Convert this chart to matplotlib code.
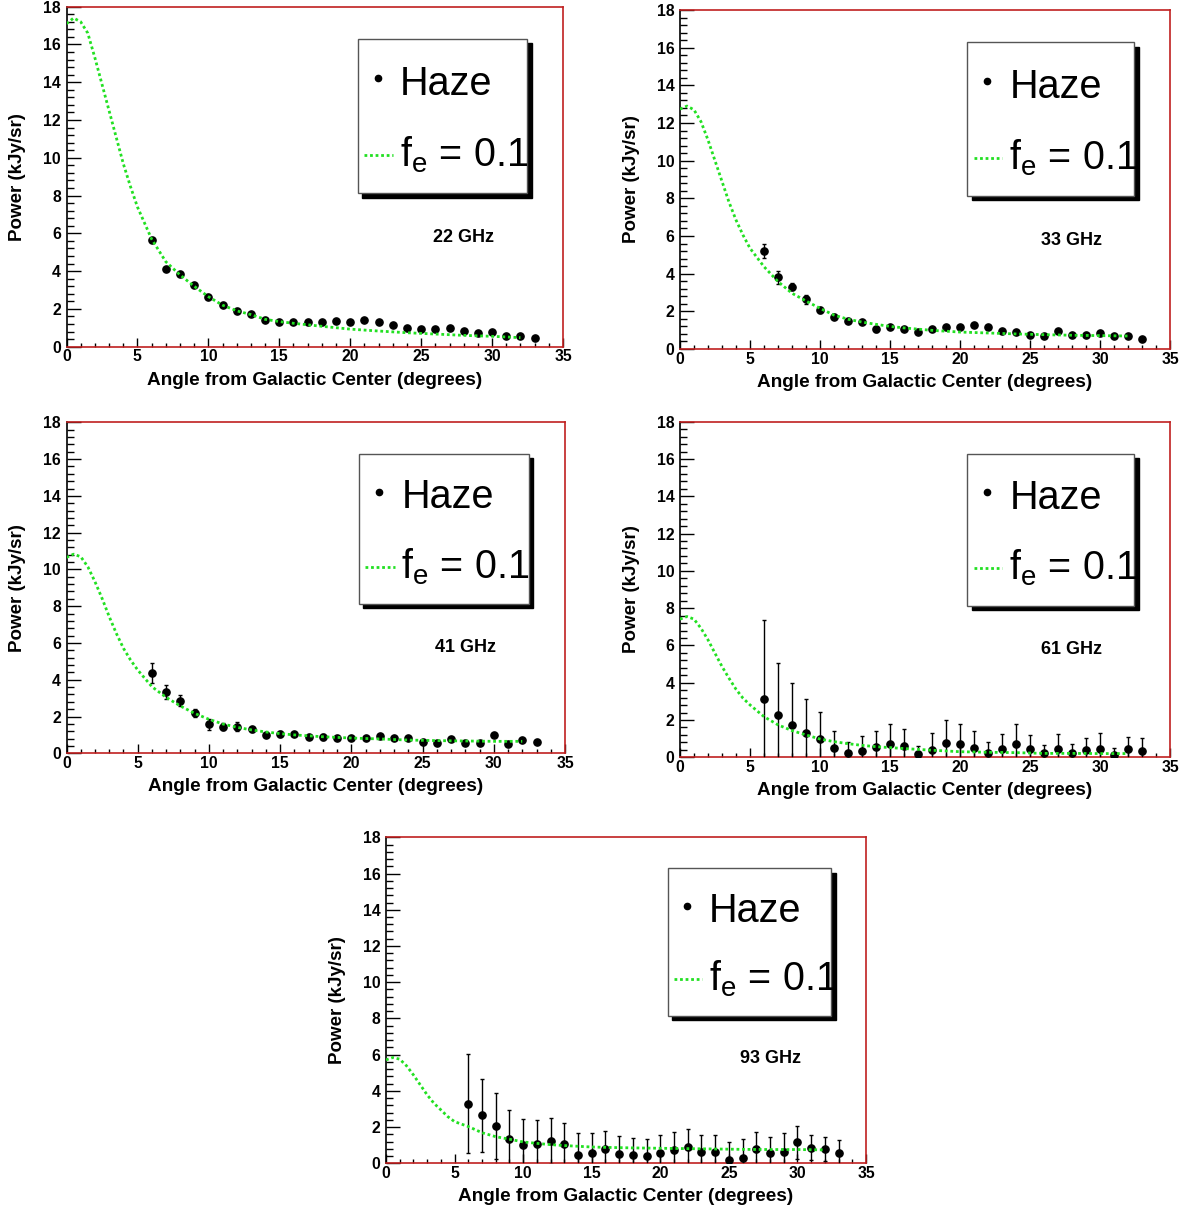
import matplotlib
matplotlib.use("Agg")
import matplotlib.pyplot as plt
from matplotlib.patches import Rectangle
from matplotlib.lines import Line2D
from matplotlib.ticker import MultipleLocator

plt.rcParams['font.family'] = ['Liberation Sans', 'DejaVu Sans']
plt.rcParams['font.weight'] = 'bold'
plt.rcParams['mathtext.default'] = 'regular'

# angles of the haze points (degrees)
angles = list(range(6, 34))

haze_22 = [5.64, 4.09, 3.83, 3.26, 2.65, 2.19, 1.89, 1.71, 1.41, 1.31, 1.29, 1.31, 1.32, 1.34,
           1.32, 1.39, 1.31, 1.13, 0.97, 0.93, 0.92, 0.99, 0.83, 0.71, 0.76, 0.58, 0.56, 0.46]
err_22 = [0.05] * 28

haze_33 = [5.2, 3.8, 3.31, 2.64, 2.07, 1.72, 1.5, 1.42, 1.04, 1.15, 1.08, 0.92, 1.04, 1.15,
           1.15, 1.26, 1.19, 0.96, 0.92, 0.74, 0.71, 0.97, 0.73, 0.76, 0.87, 0.71, 0.71, 0.51]
err_33 = [0.38, 0.35, 0.2, 0.25, 0.15, 0.15, 0.1, 0.1, 0.15, 0.08, 0.08, 0.08, 0.08, 0.08,
          0.08, 0.08, 0.08, 0.08, 0.08, 0.08, 0.08, 0.08, 0.08, 0.08, 0.08, 0.08, 0.08, 0.08]

haze_41 = [4.35, 3.33, 2.86, 2.21, 1.59, 1.45, 1.45, 1.3, 1.0, 1.05, 1.03, 0.87, 0.9, 0.82,
           0.82, 0.85, 0.94, 0.82, 0.83, 0.63, 0.54, 0.76, 0.58, 0.54, 0.98, 0.51, 0.74, 0.63]
err_41 = [0.55, 0.36, 0.3, 0.22, 0.3, 0.2, 0.25, 0.15, 0.1, 0.15, 0.1, 0.1, 0.15, 0.1,
          0.1, 0.1, 0.1, 0.1, 0.1, 0.1, 0.1, 0.1, 0.1, 0.1, 0.1, 0.1, 0.1, 0.1]

haze_61 = [3.13, 2.25, 1.72, 1.29, 0.97, 0.48, 0.25, 0.36, 0.54, 0.73, 0.59, 0.16, 0.39, 0.79,
           0.7, 0.48, 0.21, 0.45, 0.73, 0.43, 0.21, 0.45, 0.21, 0.38, 0.45, 0.13, 0.43, 0.32]
err_61 = [4.24, 2.79, 2.25, 1.82, 1.48, 0.92, 0.59, 0.8, 0.86, 1.04, 0.91, 0.45, 0.92, 1.2,
          1.09, 0.92, 0.61, 0.82, 1.04, 0.79, 0.43, 0.82, 0.49, 0.68, 0.86, 0.35, 0.68, 0.7]

haze_93 = [3.3, 2.65, 2.06, 1.33, 0.99, 1.09, 1.23, 1.05, 0.48, 0.57, 0.77, 0.5, 0.46, 0.41,
           0.55, 0.76, 0.88, 0.61, 0.61, 0.2, 0.31, 0.79, 0.55, 0.63, 1.16, 0.87, 0.77, 0.55]
err_93 = [2.72, 2.0, 1.8, 1.62, 1.44, 1.29, 1.26, 1.2, 1.18, 1.09, 1.01, 0.98, 0.96, 0.94,
          1.0, 0.97, 1.0, 0.94, 0.94, 1.0, 1.02, 0.92, 0.92, 1.03, 0.9, 0.68, 0.67, 0.72]

# model curve f_e = 0.1
model_x = [0, 0.5, 1, 1.5, 2, 2.5, 3, 3.5, 4, 4.5, 5, 6, 7, 8, 9, 10, 11, 12, 13, 14, 15, 16,
           18, 20, 22, 24, 26, 28, 30, 32]
model_22 = [17.1, 17.4, 17.2, 16.6, 15.3, 13.9, 12.5, 11.1, 9.7, 8.5, 7.4, 5.7, 4.5, 3.8, 3.2,
            2.65, 2.2, 1.9, 1.7, 1.45, 1.33, 1.24, 1.08, 0.93, 0.83, 0.74, 0.67, 0.6, 0.55, 0.48]
model_33 = [12.74, 12.9, 12.7, 12.07, 11.1, 10.0, 8.9, 7.8, 6.85, 6.05, 5.35, 4.37, 3.58, 2.96,
            2.55, 2.16, 1.8, 1.58, 1.43, 1.31, 1.2, 1.12, 0.99, 0.9, 0.85, 0.8, 0.76, 0.73, 0.71, 0.69]
model_41 = [10.65, 10.83, 10.69, 10.14, 9.33, 8.42, 7.43, 6.52, 5.71, 5.07, 4.53, 3.62, 3.04, 2.57,
            2.17, 1.85, 1.59, 1.41, 1.27, 1.16, 1.07, 1.0, 0.9, 0.83, 0.78, 0.72, 0.69, 0.67, 0.65, 0.65]
model_61 = [7.41, 7.55, 7.41, 6.92, 6.3, 5.58, 4.87, 4.24, 3.65, 3.17, 2.81, 2.18, 1.74, 1.43,
            1.2, 0.98, 0.84, 0.73, 0.64, 0.57, 0.52, 0.47, 0.38, 0.3, 0.27, 0.25, 0.21, 0.21, 0.2, 0.2]
model_93 = [5.71, 5.84, 5.75, 5.38, 4.88, 4.33, 3.78, 3.31, 2.95, 2.58, 2.3, 2.03, 1.69, 1.47,
            1.33, 1.18, 1.1, 1.03, 0.98, 0.94, 0.9, 0.88, 0.85, 0.83, 0.81, 0.79, 0.77, 0.76, 0.76, 0.74]

freqs = ['22 GHz', '33 GHz', '41 GHz', '61 GHz', '93 GHz']
haze = [haze_22, haze_33, haze_41, haze_61, haze_93]
errs = [err_22, err_33, err_41, err_61, err_93]
models = [model_22, model_33, model_41, model_61, model_93]

W, H = 1191, 1214
# frame of each pad in pixels: left, top, right, bottom
frames = [(66.5, 6.7, 563, 346.7),
          (680, 10, 1170, 349),
          (66.5, 422.3, 565, 753.3),
          (680, 421.7, 1170, 757.3),
          (386, 837.3, 866, 1163.3)]

GREEN = '#22e022'
FRAME = '#c02020'

fig = plt.figure(figsize=(W / 100, H / 100), dpi=100)

for freq, y, e, m, (l, t, r, b) in zip(freqs, haze, errs, models, frames):
    ax = fig.add_axes([l / W, 1 - b / H, (r - l) / W, (b - t) / H])
    wpx, hpx = r - l, b - t

    ax.errorbar(angles, y, yerr=e, fmt='o', color='black', ms=5.2, elinewidth=1,
                capsize=1.5, capthick=1, zorder=3)
    ax.plot(model_x, m, color=GREEN, lw=2.0, ls=(0, (1, 1)), zorder=4)

    ax.set_xlim(0, 35)
    ax.set_ylim(0, 18)
    ax.xaxis.set_major_locator(MultipleLocator(5))
    ax.xaxis.set_minor_locator(MultipleLocator(1))
    ax.yaxis.set_major_locator(MultipleLocator(2))
    ax.yaxis.set_minor_locator(MultipleLocator(0.4))
    ax.tick_params(axis='y', which='both', direction='in', left=True, right=False,
                   color='black', width=1, labelsize=11.3, pad=4)
    ax.tick_params(axis='y', which='major', length=10)
    ax.tick_params(axis='y', which='minor', length=5)
    ax.tick_params(axis='x', which='both', direction='in', bottom=True, top=False,
                   color='black', width=1, labelsize=11.3, pad=2)
    ax.tick_params(axis='x', which='major', length=6.5)
    ax.tick_params(axis='x', which='minor', length=3.2)

    for side in ['top', 'right', 'bottom']:
        ax.spines[side].set_color(FRAME)
    ax.spines['left'].set_color('black')
    for s in ax.spines.values():
        s.set_linewidth(1.2)

    ax.set_xlabel('Angle from Galactic Center (degrees)', fontsize=13.7, fontweight='bold')
    ax.set_ylabel('Power (kJy/sr)', fontsize=13.5, fontweight='bold')
    ax.xaxis.set_label_coords(0.5, -25 / hpx)
    ax.yaxis.set_label_coords(-40 / wpx, 0.5)

    # legend box with shadow
    bx0, bx1, by0, by1 = 0.5865, 0.9275, 0.452, 0.905
    dx, dy = 4.5 / wpx, 4.5 / hpx
    ax.add_patch(Rectangle((bx0 + dx, by0 - dy), bx1 - bx0, by1 - by0, transform=ax.transAxes,
                           facecolor='black', edgecolor='black', zorder=5))
    ax.add_patch(Rectangle((bx0, by0), bx1 - bx0, by1 - by0, transform=ax.transAxes,
                           facecolor='white', edgecolor='#555555', lw=1, zorder=6))
    ax.add_line(Line2D([0.627], [0.79], transform=ax.transAxes, marker='o', ms=4.5,
                       color='black', ls='none', zorder=7))
    ax.text(0.672, 0.74, 'Haze', transform=ax.transAxes, fontsize=28.5, fontweight='normal',
            ha='left', va='baseline', zorder=7)
    ax.add_line(Line2D([0.599, 0.658], [0.564, 0.564], transform=ax.transAxes, color=GREEN,
                       lw=2.0, ls=(0, (1, 1)), zorder=7))
    ax.text(0.672, 0.529, 'f$_e$ = 0.1', transform=ax.transAxes, fontsize=28.5,
            fontweight='normal', ha='left', va='baseline', zorder=7)

    ax.text(0.8, 0.32, freq, transform=ax.transAxes, fontsize=13, fontweight='bold',
            ha='center', va='center')

fig.savefig('out.png', dpi=100)
